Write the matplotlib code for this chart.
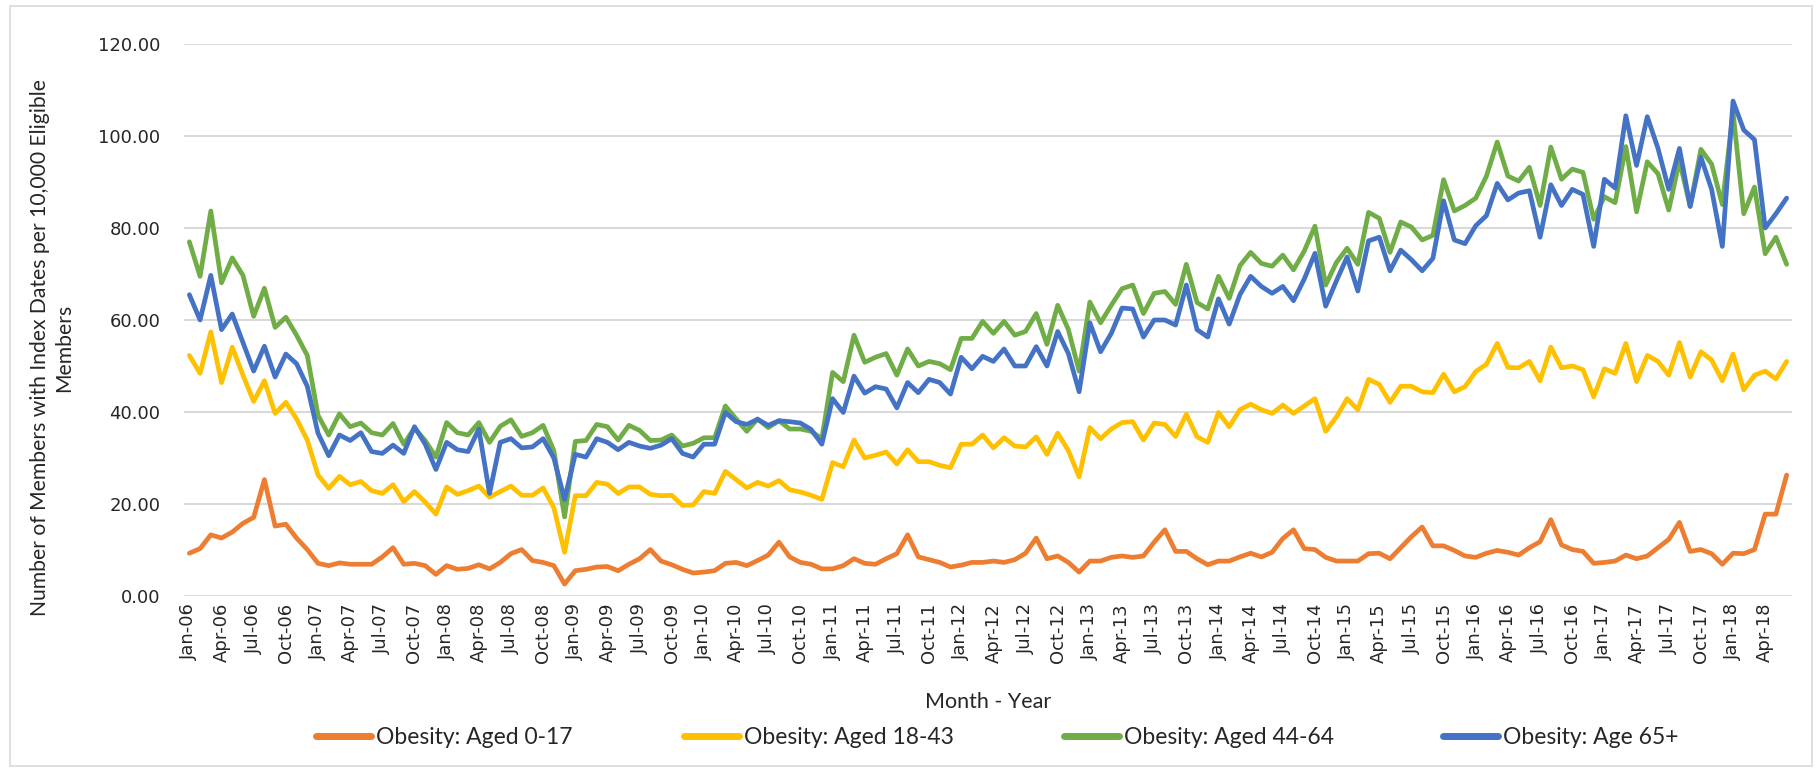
import matplotlib
matplotlib.use("Agg")
import matplotlib.pyplot as plt
import numpy as np
from matplotlib.lines import Line2D
from matplotlib.patches import Rectangle

# monthly values, Jan-2006 .. Jun-2018
aged_0_17 = [
    9.3, 10.3, 13.3, 12.6, 13.9, 15.8, 17.1, 25.3, 15.2, 15.6, 12.6, 10.1, 7.1, 6.6, 7.2, 6.9, 6.9, 6.9, 8.5, 10.5, 6.9, 7.1, 6.6, 4.7, 6.6,
    5.8, 6.0, 6.8, 5.9, 7.3, 9.2, 10.1, 7.7, 7.3, 6.6, 2.6, 5.5, 5.8, 6.3, 6.4, 5.5, 6.9, 8.1, 10.1, 7.6, 6.8, 5.8, 5.0, 5.2, 5.5,
    7.1, 7.3, 6.6, 7.7, 8.9, 11.7, 8.5, 7.3, 6.9, 5.9, 5.9, 6.6, 8.1, 7.1, 6.9, 8.1, 9.2, 13.3, 8.5, 7.9, 7.3, 6.3, 6.7, 7.3, 7.3,
    7.6, 7.3, 7.9, 9.3, 12.6, 8.1, 8.7, 7.3, 5.2, 7.6, 7.6, 8.4, 8.7, 8.4, 8.7, 11.7, 14.4, 9.7, 9.7, 8.1, 6.8, 7.6, 7.6, 8.5, 9.3,
    8.5, 9.5, 12.5, 14.4, 10.3, 10.1, 8.4, 7.6, 7.6, 7.6, 9.2, 9.3, 8.1, 10.5, 12.9, 15.0, 10.9, 10.9, 9.9, 8.7, 8.4, 9.3, 9.9, 9.5, 8.9,
    10.5, 11.8, 16.6, 11.1, 10.1, 9.7, 7.1, 7.3, 7.6, 8.9, 8.1, 8.7, 10.5, 12.3, 16.0, 9.7, 10.1, 9.2, 6.9, 9.3, 9.2, 10.1, 17.8, 17.8, 26.3,
]
aged_18_43 = [
    52.3, 48.4, 57.4, 46.4, 54.1, 48.0, 42.3, 46.8, 39.7, 42.1, 38.5, 33.9, 26.3, 23.4, 26.0, 24.2, 24.9, 22.9, 22.3, 24.2, 20.5, 22.7, 20.4, 17.8, 23.7,
    22.1, 22.9, 23.9, 21.5, 22.7, 23.9, 21.9, 21.9, 23.5, 19.2, 9.5, 21.8, 21.8, 24.7, 24.3, 22.3, 23.7, 23.7, 22.1, 21.8, 21.9, 19.7, 19.8, 22.7, 22.3,
    27.1, 25.3, 23.5, 24.7, 23.9, 25.1, 23.1, 22.6, 21.9, 21.0, 29.0, 28.1, 33.9, 30.0, 30.6, 31.3, 28.7, 31.8, 29.2, 29.2, 28.4, 27.9, 33.0, 33.0, 35.0,
    32.2, 34.4, 32.6, 32.4, 34.6, 30.8, 35.4, 31.6, 25.9, 36.6, 34.2, 36.3, 37.7, 37.9, 33.9, 37.6, 37.3, 34.7, 39.5, 34.6, 33.4, 39.9, 36.8, 40.5, 41.7,
    40.5, 39.7, 41.5, 39.7, 41.3, 42.9, 35.8, 38.9, 42.9, 40.5, 47.1, 46.0, 42.1, 45.6, 45.6, 44.4, 44.2, 48.2, 44.4, 45.5, 48.8, 50.4, 54.9, 49.7, 49.6,
    51.0, 46.8, 54.1, 49.6, 50.0, 49.2, 43.3, 49.4, 48.4, 54.9, 46.6, 52.3, 51.0, 48.0, 55.1, 47.6, 53.1, 51.3, 46.8, 52.6, 44.8, 48.0, 48.9, 47.2, 51.0,
]
aged_44_64 = [
    77.0, 69.5, 83.7, 68.1, 73.5, 69.7, 60.8, 66.9, 58.4, 60.6, 56.7, 52.3, 39.3, 35.0, 39.6, 36.8, 37.6, 35.5, 35.0, 37.5, 33.0, 36.5, 33.8, 30.2, 37.7,
    35.5, 35.0, 37.7, 33.4, 36.9, 38.3, 34.7, 35.5, 37.1, 31.6, 17.2, 33.6, 33.8, 37.3, 36.8, 33.9, 37.1, 36.0, 33.8, 33.9, 35.0, 32.6, 33.2, 34.4, 34.4,
    41.3, 38.5, 35.8, 38.5, 36.6, 38.1, 36.3, 36.3, 35.8, 34.2, 48.6, 46.6, 56.7, 50.8, 51.9, 52.7, 48.0, 53.7, 50.0, 51.0, 50.5, 49.2, 56.0, 56.0, 59.7,
    57.1, 59.7, 56.7, 57.5, 61.4, 54.7, 63.2, 57.9, 48.9, 63.9, 59.4, 63.2, 66.8, 67.6, 61.4, 65.8, 66.2, 63.4, 72.1, 63.8, 62.4, 69.5, 64.7, 71.8, 74.7,
    72.3, 71.7, 74.1, 70.9, 75.0, 80.4, 67.6, 72.5, 75.6, 72.1, 83.4, 82.1, 74.7, 81.3, 80.2, 77.4, 78.4, 90.5, 83.7, 84.9, 86.5, 91.3, 98.7, 91.3, 90.2,
    93.2, 84.9, 97.6, 90.6, 92.8, 92.1, 81.9, 86.8, 85.5, 97.7, 83.5, 94.4, 91.8, 83.9, 94.6, 84.7, 97.1, 93.9, 85.1, 105.2, 83.1, 88.9, 74.4, 78.0, 72.1,
]
age_65_plus = [
    65.5, 60.0, 69.7, 57.9, 61.3, 55.1, 48.9, 54.3, 47.6, 52.6, 50.5, 45.6, 35.4, 30.5, 35.0, 33.8, 35.5, 31.4, 31.0, 32.8, 31.0, 36.8, 33.0, 27.5, 33.4,
    31.8, 31.4, 36.3, 22.3, 33.4, 34.2, 32.2, 32.4, 34.2, 30.0, 21.0, 30.8, 30.2, 34.2, 33.4, 31.8, 33.4, 32.6, 32.1, 32.8, 34.2, 31.0, 30.2, 33.0, 33.0,
    39.9, 37.9, 37.3, 38.4, 37.1, 38.1, 37.9, 37.6, 36.2, 33.0, 42.9, 39.9, 47.8, 44.1, 45.5, 45.0, 40.9, 46.4, 44.2, 47.1, 46.4, 43.9, 51.9, 49.4, 52.1,
    51.0, 53.7, 50.0, 50.0, 54.2, 50.0, 57.5, 52.7, 44.4, 59.4, 53.1, 57.1, 62.6, 62.4, 56.3, 60.0, 60.0, 58.9, 67.6, 57.9, 56.3, 64.6, 59.1, 65.5, 69.5,
    67.3, 65.8, 67.3, 64.2, 68.9, 74.5, 63.0, 68.5, 73.7, 66.3, 77.2, 78.0, 70.7, 75.2, 73.1, 70.7, 73.4, 85.9, 77.4, 76.6, 80.5, 82.7, 89.7, 86.1, 87.6,
    88.1, 78.0, 89.4, 84.9, 88.4, 87.3, 76.0, 90.6, 88.7, 104.4, 93.6, 104.2, 97.3, 88.4, 97.3, 84.7, 95.4, 88.4, 76.0, 107.6, 101.3, 99.2, 80.0, 83.1, 86.5,
]

month_names = ["Jan", "Feb", "Mar", "Apr", "May", "Jun", "Jul", "Aug", "Sep", "Oct", "Nov", "Dec"]
years = list(range(2006, 2019))
months = [f"{m}-{y % 100:02d}" for y in years for m in month_names][:len(aged_0_17)]

series = [
    ("Obesity: Aged 0-17", aged_0_17, "#ED7D31"),
    ("Obesity: Aged 18-43", aged_18_43, "#FFC000"),
    ("Obesity: Aged 44-64", aged_44_64, "#70AD47"),
    ("Obesity: Age 65+", age_65_plus, "#4472C4"),
]

W, H = 1820, 771
fig = plt.figure(figsize=(W / 100, H / 100), dpi=100)
ax = fig.add_axes([184 / W, 1 - 596 / H, (1792 - 184) / W, (596 - 44) / H])

x = np.arange(len(months))
lines = []
for name, vals, col in series:
    ln, = ax.plot(x, vals, color=col, lw=3.4, solid_joinstyle="round", solid_capstyle="round", label=name)
    lines.append(ln)

ax.set_xlim(-0.5, len(months) - 0.5)
ax.set_ylim(0, 120)
ax.set_yticks(np.arange(0, 121, 20))
ax.set_yticklabels([f"{v:.2f}" for v in np.arange(0, 121, 20)], fontsize=13, color="#262626")
ax.set_xticks(x[::3])
ax.set_xticklabels(months[::3], rotation=90, fontsize=13, color="#262626")
ax.tick_params(axis="y", length=0, pad=17)
ax.tick_params(axis="x", length=0, pad=5)
ax.yaxis.grid(True, color="#D9D9D9", lw=1.5)
ax.set_axisbelow(True)
for s in ax.spines.values():
    s.set_visible(False)

title_font = ["Lato", "DejaVu Sans"]
fig.text(52 / W, 1 - 348 / H, "Number of Members with Index Dates per 10,000 Eligible\nMembers",
         rotation=90, ha="center", va="center", multialignment="center",
         fontsize=15.2, family=title_font, color="#262626", linespacing=1.25)
fig.text(988 / W, 1 - 702 / H, "Month - Year", ha="center", va="center",
         fontsize=15.5, family=title_font, color="#262626")

# one legend entry per column, spaced like the original
starts = [316, 684, 1064, 1443]
for ln, x0 in zip(lines, starts):
    h = Line2D([], [], color=ln.get_color(), lw=5, solid_capstyle="round")
    lg = fig.legend([h], [ln.get_label()], loc="center left",
                    bbox_to_anchor=(x0 / W, 1 - 738 / H), frameon=False,
                    borderpad=0, borderaxespad=0, handlelength=2.4, handletextpad=0.2,
                    prop={"family": title_font, "size": 16.5})
    for t in lg.get_texts():
        t.set_color("#262626")

fig.patches.append(Rectangle((10 / W, 5 / H), (1812 - 10) / W, (765 - 5) / H,
                             transform=fig.transFigure, fill=False,
                             edgecolor="#D9D9D9", lw=1.2))

fig.savefig("out.png", dpi=100, facecolor="white")
